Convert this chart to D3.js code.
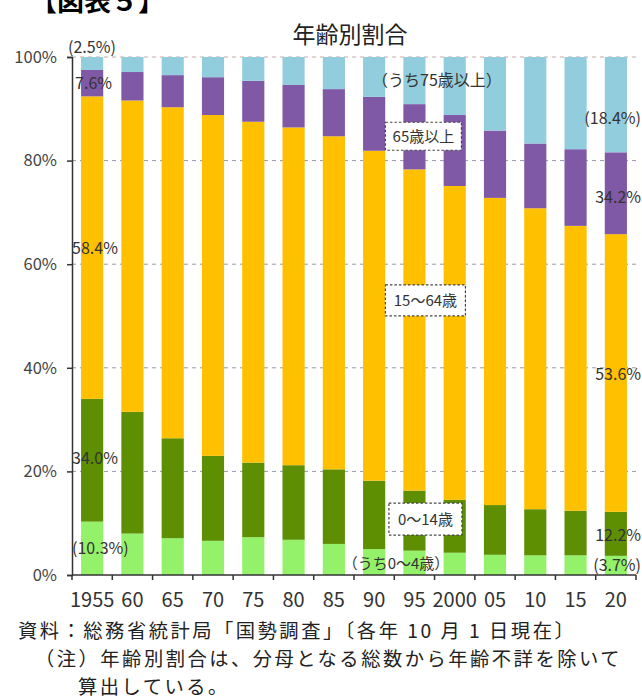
<!DOCTYPE html>
<html>
<head>
<meta charset="utf-8">
<script src="https://cdn.jsdelivr.net/npm/d3@7"></script>
<style>
  html, body { margin: 0; padding: 0; background: #fff; }
  svg { display: block; }
  text { font-family: "Noto Sans CJK JP", "Noto Sans", sans-serif; }
</style>
</head>
<body>
<svg id="chart" width="642" height="700"></svg>
<script>
// ---- data (percent shares by age group) ----
const years = ["1955","60","65","70","75","80","85","90","95","2000","05","10","15","20"];
const ages0to4   = [10.3, 8.0, 7.1, 6.6, 7.3, 6.8, 6.0, 5.0, 4.7, 4.3, 3.9, 3.8, 3.8, 3.7];
const ages5to14  = [23.7, 23.5, 19.3, 16.4, 14.4, 14.4, 14.4, 13.2, 11.6, 10.2, 9.6, 8.9, 8.6, 8.5];
const ages15to64 = [58.4, 60.1, 63.9, 65.8, 65.8, 65.2, 64.3, 63.7, 62.0, 60.6, 59.3, 58.1, 55.0, 53.6];
const ages65to74 = [5.1, 5.5, 6.2, 7.3, 7.9, 8.2, 9.1, 10.4, 12.6, 13.7, 13.0, 12.5, 14.8, 15.8];
const ages75plus = [2.5, 2.9, 3.5, 3.9, 4.6, 5.4, 6.2, 7.7, 9.1, 11.2, 14.2, 16.7, 17.8, 18.4];
const seriesKeys = ["a0_4", "a5_14", "a15_64", "a65_74", "a75"];
const seriesColors = ["#93f26a", "#5e8f03", "#ffc000", "#7f59a6", "#92cddd"];
const yTicks = [0, 20, 40, 60, 80, 100];

const table = years.map((yr, i) => ({
  year: yr,
  a0_4: ages0to4[i], a5_14: ages5to14[i], a15_64: ages15to64[i],
  a65_74: ages65to74[i], a75: ages75plus[i]
}));

const svg = d3.select("#chart");
const mLeft = 72, mRight = 636, mTop = 57, mBottom = 575;

const x = d3.scaleBand().domain(years).range([mLeft, mRight])
  .paddingInner(0.45).paddingOuter(0.225);
const y = d3.scaleLinear().domain([0, 100]).range([mBottom, mTop]);

// header (cropped at the top edge, as in the source)
svg.append("text").attr("x", 30).attr("y", 11)
  .attr("font-size", 27).attr("font-weight", "bold").attr("fill", "#000")
  .text("【図表５】");

// title
svg.append("text").attr("x", 350).attr("y", 43).attr("text-anchor", "middle")
  .attr("font-size", 23).attr("fill", "#222").text("年齢別割合");

// gridlines
svg.append("g").selectAll("line").data(yTicks.filter(d => d > 0)).join("line")
  .attr("x1", mLeft).attr("x2", mRight)
  .attr("y1", d => y(d)).attr("y2", d => y(d))
  .attr("stroke", d => d === 100 ? "#c8a8a8" : "#9898b0")
  .attr("stroke-width", 1).attr("stroke-dasharray", "4,4");

// stacked bars
const stack = d3.stack().keys(seriesKeys);
const layers = stack(table);
svg.append("g").selectAll("g").data(layers).join("g")
  .attr("fill", (d, i) => seriesColors[i])
  .selectAll("rect").data(d => d).join("rect")
  .attr("x", d => x(d.data.year))
  .attr("width", x.bandwidth())
  .attr("y", d => y(d[1]))
  .attr("height", d => y(d[0]) - y(d[1]));

// y axis
const yAxis = d3.axisLeft(y).tickValues(yTicks).tickFormat(d => d + "%")
  .tickSize(5).tickPadding(10);
const gy = svg.append("g").attr("transform", `translate(${mLeft},0)`).call(yAxis);
gy.select(".domain").attr("stroke", "#333").attr("stroke-width", 1.5);
gy.selectAll(".tick line").attr("stroke", "#333").attr("stroke-width", 1.5);
gy.selectAll(".tick text").attr("font-size", 16.5).attr("fill", "#444")
  .attr("font-family", "'Liberation Sans', sans-serif");

// x axis line + boundary ticks
const step = x.step();
const boundaries = d3.range(years.length + 1).map(k => mLeft + k * step);
svg.append("line").attr("x1", mLeft).attr("x2", mRight)
  .attr("y1", mBottom).attr("y2", mBottom).attr("stroke", "#333").attr("stroke-width", 1.5);
svg.append("g").selectAll("line").data(boundaries).join("line")
  .attr("x1", d => d).attr("x2", d => d)
  .attr("y1", mBottom).attr("y2", mBottom + 5)
  .attr("stroke", "#333").attr("stroke-width", 1.5);
svg.append("g").selectAll("text").data(years).join("text")
  .attr("x", d => x(d) + x.bandwidth() / 2)
  .attr("y", mBottom + 32)
  .attr("text-anchor", "middle")
  .attr("font-size", 20).attr("fill", "#333")
  .attr("font-family", "'Liberation Sans Narrow', 'Liberation Sans', sans-serif")
  .text(d => d);

// value annotations
const labelStyle = sel => sel.attr("font-size", 16).attr("fill", "#333")
  .attr("font-family", "'Liberation Sans', sans-serif");
const firstX = x(years[0]) - 9;
const lastX = 641;
const i0 = 0, iN = years.length - 1;
const ann = [
  { t: "(2.5%)", x: firstX - 4, y: y(100) - 4, a: "start" },
  { t: "7.6%", x: firstX + 3, y: y(100 - ages75plus[i0] - ages65to74[i0] / 2) + 6, a: "start" },
  { t: "58.4%", x: firstX, y: y(ages0to4[i0] + ages5to14[i0] + ages15to64[i0] / 2) + 6, a: "start" },
  { t: "34.0%", x: firstX, y: y(ages0to4[i0] + ages5to14[i0] / 2) + 4, a: "start" },
  { t: "(10.3%)", x: firstX, y: y(ages0to4[i0] / 2) + 6, a: "start" },
  { t: "(18.4%)", x: lastX, y: y(100 - ages75plus[iN] / 2) + 19, a: "end" },
  { t: "34.2%", x: lastX, y: y(100 - ages75plus[iN] - ages65to74[iN] / 2) + 10, a: "end" },
  { t: "53.6%", x: lastX, y: y(ages0to4[iN] + ages5to14[iN] + ages15to64[iN] / 2) + 7, a: "end" },
  { t: "12.2%", x: lastX, y: y(ages0to4[iN] + ages5to14[iN] / 2) + 7, a: "end" },
  { t: "(3.7%)", x: lastX, y: y(ages0to4[iN] / 2) + 6, a: "end" }
];
svg.append("g").selectAll("text").data(ann).join("text")
  .attr("x", d => d.x).attr("y", d => d.y).attr("text-anchor", d => d.a)
  .text(d => d.t).call(labelStyle);

// plain series notes
svg.append("text").attr("x", 437).attr("y", 86).attr("text-anchor", "middle")
  .attr("font-size", 16).attr("fill", "#333").text("（うち75歳以上）");
svg.append("text").attr("x", 396).attr("y", 569).attr("text-anchor", "middle")
  .attr("font-size", 15).attr("fill", "#333").text("（うち0〜4歳）");

// boxed series labels
const boxCx = x("95") + x.bandwidth() / 2 + 9;
const boxes = [
  { t: "65歳以上", cx: boxCx, cy: y(84.7), w: 76, h: 28 },
  { t: "15〜64歳", cx: boxCx + 2, cy: y(53.0), w: 80, h: 31 },
  { t: "0〜14歳", cx: boxCx + 2, cy: y(10.8), w: 73, h: 32 }
];
const bg = svg.append("g").selectAll("g").data(boxes).join("g");
bg.append("rect")
  .attr("x", d => d.cx - d.w / 2).attr("y", d => d.cy - d.h / 2)
  .attr("width", d => d.w).attr("height", d => d.h)
  .attr("fill", "#fff").attr("stroke", "#444").attr("stroke-width", 1.2)
  .attr("stroke-dasharray", "2.5,2");
bg.append("text").attr("x", d => d.cx).attr("y", d => d.cy + 5.5)
  .attr("text-anchor", "middle").attr("font-size", 15).attr("fill", "#333")
  .text(d => d.t);

// footnotes
const noteStyle = sel => sel.attr("font-size", 19.3).attr("letter-spacing", 2.5).attr("fill", "#222");
svg.append("text").attr("x", 18).attr("y", 638).call(noteStyle)
  .text("資料：総務省統計局「国勢調査」〔各年 10 月 1 日現在〕");
svg.append("text").attr("x", 35).attr("y", 666).call(noteStyle)
  .text("（注）年齢別割合は、分母となる総数から年齢不詳を除いて");
svg.append("text").attr("x", 78).attr("y", 694).call(noteStyle)
  .text("算出している。");
</script>
</body>
</html>
